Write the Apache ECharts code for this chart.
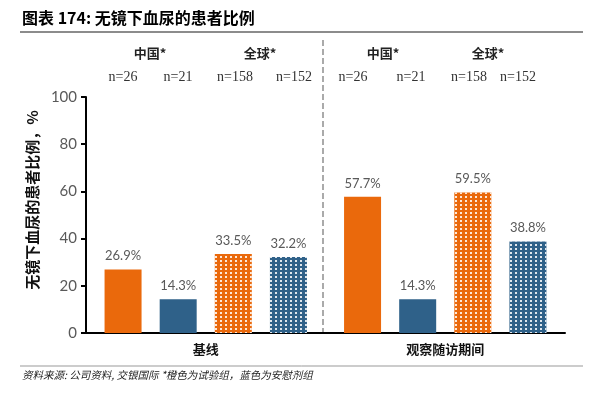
<!DOCTYPE html>
<html>
<head>
<meta charset="utf-8">
<script src="https://cdn.jsdelivr.net/npm/echarts@6/dist/echarts.min.js"></script>
<style>
html,body{margin:0;padding:0;background:#fff;}
#main{width:589px;height:393px;}
</style>
</head>
<body>
<div id="main"></div>
<script>
// ---- data ----
var categories = ['基线', '观察随访期间'];
var chinaTreatment = [26.9, 57.7];
var chinaPlacebo = [14.3, 14.3];
var globalTreatment = [33.5, 59.5];
var globalPlacebo = [32.2, 38.8];
var sampleLabels = ['n=26', 'n=21', 'n=158', 'n=152'];
var groupLabels = ['中国*', '全球*'];
var yTicks = [0, 20, 40, 60, 80, 100];

var ORANGE = '#EA690C';
var BLUE = '#2F6189';
var CJK = '"Noto Sans CJK SC", sans-serif';
var LAT = 'Lato, "Open Sans", sans-serif';

var dotDecal = {
  symbol: 'rect',
  symbolSize: 1,
  dashArrayX: [2, 3],
  dashArrayY: [2, 2],
  color: 'rgba(255,255,255,0.85)',
  rotation: 0
};

function barSeries(name, data, color, decal) {
  var s = {
    name: name,
    type: 'bar',
    data: data,
    barWidth: 37,
    barGap: '49%',
    itemStyle: { color: color },
    label: {
      show: true,
      position: 'top',
      distance: 7,
      color: '#595959',
      fontSize: 13,
      fontFamily: LAT,
      formatter: function (p) { return p.value.toFixed(1) + '%'; }
    }
  };
  if (decal) s.itemStyle.decal = dotDecal;
  return s;
}

var chart = echarts.init(document.getElementById('main'));

// annotation text positions (top area)
var nX = [[123, 178, 235, 294], [353, 411, 469, 518]];
var gX = [[150, 260], [383, 488]];
var graphics = [
  { type: 'text', left: 22, top: 10, style: { text: '图表 174: 无镜下血尿的患者比例', font: 'bold 16px ' + CJK, fill: '#000' } },
  { type: 'line', shape: { x1: 20, y1: 32, x2: 583, y2: 32 }, style: { stroke: '#666', lineWidth: 1.5 } },
  { type: 'line', shape: { x1: 20, y1: 366, x2: 583, y2: 366 }, style: { stroke: '#999', lineWidth: 1 } },
  { type: 'text', left: 22, top: 370, style: { text: '资料来源: 公司资料, 交银国际 *橙色为试验组，蓝色为安慰剂组', font: 'italic 10.5px ' + CJK, fill: '#222' } },
  { type: 'line', shape: { x1: 323, y1: 40, x2: 323, y2: 333 }, style: { stroke: '#aaa', lineWidth: 2, lineDash: [6, 3] } }
];
for (var g = 0; g < 2; g++) {
  for (var i = 0; i < sampleLabels.length; i++) {
    graphics.push({ type: 'text', x: nX[g][i], y: 77, style: { text: sampleLabels[i], font: '14px "Liberation Serif", serif', fill: '#333', align: 'center', verticalAlign: 'middle' } });
  }
  for (var j = 0; j < groupLabels.length; j++) {
    graphics.push({ type: 'text', x: gX[g][j], y: 53, style: { text: groupLabels[j], font: 'bold 13px ' + CJK, fill: '#222', align: 'center', verticalAlign: 'middle' } });
  }
}

chart.setOption({
  animation: false,
  backgroundColor: '#fff',
  grid: { left: 86, right: 24, top: 97, bottom: 60, containLabel: false },
  xAxis: {
    type: 'category',
    data: categories,
    axisLine: { lineStyle: { color: '#000', width: 2 } },
    axisTick: { show: false },
    axisLabel: { color: '#111', fontSize: 13, fontWeight: 'bold', fontFamily: CJK, margin: 10 }
  },
  yAxis: {
    type: 'value',
    min: yTicks[0],
    max: yTicks[yTicks.length - 1],
    interval: 20,
    name: '无镜下血尿的患者比例，%',
    nameLocation: 'middle',
    nameRotate: 90,
    nameGap: 42,
    nameTextStyle: { color: '#111', fontSize: 15, fontWeight: 'bold', fontFamily: CJK, padding: [0, 0, 0, 30] },
    axisLine: { show: true, lineStyle: { color: '#000', width: 2 } },
    axisTick: { show: true, length: 5, lineStyle: { color: '#000', width: 2 } },
    axisLabel: { color: '#595959', fontSize: 15, fontFamily: LAT, margin: 9 },
    splitLine: { show: false }
  },
  series: [
    barSeries('中国试验组', chinaTreatment, ORANGE, false),
    barSeries('中国安慰剂组', chinaPlacebo, BLUE, false),
    barSeries('全球试验组', globalTreatment, ORANGE, true),
    barSeries('全球安慰剂组', globalPlacebo, BLUE, true)
  ],
  graphic: graphics
});
</script>
</body>
</html>
